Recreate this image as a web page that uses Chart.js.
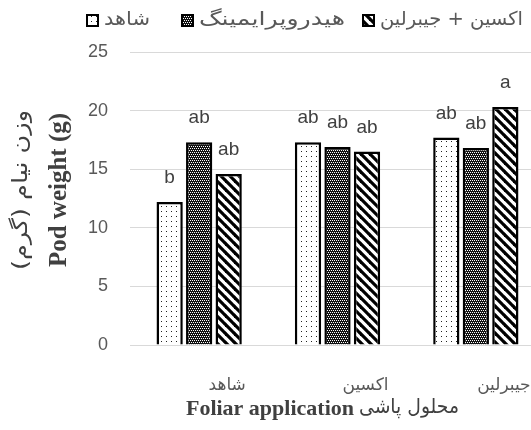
<!DOCTYPE html>
<html>
<head>
<meta charset="utf-8">
<script src="https://cdn.jsdelivr.net/npm/chart.js@4.4.1/dist/chart.umd.min.js"></script>
<style>
  body { margin: 0; overflow: hidden; background: #fff; }
  #wrap { width: 546px; height: 430px; }
</style>
</head>
<body>
<div id="wrap"><canvas id="myChart"></canvas></div>
<script>
'use strict';

let categories = ['شاهد', 'اکسین', 'جیبرلین'];
let seriesNames = ['شاهد', 'هیدروپرایمینگ', 'اکسین + جیبرلین'];

let controlValues = [12.2, 17.3, 17.7];
let hydroValues = [17.3, 16.9, 16.8];
let auxinGaValues = [14.6, 16.5, 20.3];

let controlLetters = ['b', 'ab', 'ab'];
let hydroLetters = ['ab', 'ab', 'ab'];
let auxinGaLetters = ['ab', 'ab', 'a'];

let yTicks = [0, 5, 10, 15, 20, 25];

let yTitleFa = 'وزن نیام (گرم)';
let yTitleEn = 'Pod weight (g)';
let xTitleFa = 'محلول پاشی';
let xTitleEn = 'Foliar application';

function makePattern(kind) {
    let c = document.createElement('canvas');
    let g = c.getContext('2d');
    if (kind === 'dots') {
        c.width = 5; c.height = 5;
        g.fillStyle = '#fff';
        g.fillRect(0, 0, 5, 5);
        g.fillStyle = '#222';
        g.fillRect(1, 1, 1, 1);
    } else if (kind === 'cross') {
        c.width = 4; c.height = 4;
        g.fillStyle = '#111';
        g.fillRect(0, 0, 4, 4);
        g.fillStyle = '#fff';
        g.fillRect(0, 0, 1, 1);
        g.fillRect(2, 0, 1, 1);
        g.fillRect(1, 2, 1, 1);
        g.fillRect(3, 2, 1, 1);
    } else {
        c.width = 9; c.height = 9;
        g.fillStyle = '#fff';
        g.fillRect(0, 0, 9, 9);
        g.strokeStyle = '#000';
        g.lineWidth = 3.2;
        for (let k = -1; k <= 1; k++) {
            g.beginPath();
            g.moveTo(k * 9 - 1, -1);
            g.lineTo(k * 9 + 10, 10);
            g.stroke();
        }
    }
    return g.createPattern(c, 'repeat');
}

let patterns = [makePattern('dots'), makePattern('cross'), makePattern('stripes')];
let letters = [controlLetters, hydroLetters, auxinGaLetters];

// persian font here is narrower than the original one, so stretch it to a width
// (textAlign must be 'left', x is the left edge)
function faText(ctx, text, x, y, width) {
    ctx.save();
    ctx.direction = 'rtl';
    let w = ctx.measureText(text).width;
    ctx.translate(x, y);
    ctx.scale(width / w, 1);
    ctx.fillText(text, 0, 0);
    ctx.restore();
}

let extrasPlugin = {
    id: 'extras',
    afterDatasetsDraw(chart) {
        let ctx = chart.ctx;
        ctx.save();
        ctx.fillStyle = '#404040';
        ctx.font = '19px "Liberation Sans", Arial, sans-serif';
        ctx.textAlign = 'center';
        ctx.textBaseline = 'middle';
        chart.data.datasets.forEach(function (ds, i) {
            let meta = chart.getDatasetMeta(i);
            meta.data.forEach(function (bar, j) {
                ctx.fillText(letters[i][j], bar.x, bar.y - 24);
            });
        });
        ctx.restore();
    },
    afterDraw(chart) {
        let ctx = chart.ctx;
        let boxX = [86, 181, 362];
        let textW = [46, 146, 143];
        ctx.save();
        chart.data.datasets.forEach(function (ds, i) {
            ctx.fillStyle = patterns[i];
            ctx.fillRect(boxX[i], 14, 13, 13);
            ctx.strokeStyle = '#000';
            ctx.lineWidth = 2;
            ctx.strokeRect(boxX[i] + 1, 15, 11, 11);
            ctx.fillStyle = '#595959';
            ctx.font = '19px "DejaVu Sans", sans-serif';
            ctx.textAlign = 'left';
            ctx.textBaseline = 'middle';
            faText(ctx, ds.label, boxX[i] + 18, 20, textW[i]);
        });

        // y title, two lines rotated
        ctx.save();
        ctx.translate(22, 190);
        ctx.rotate(-Math.PI / 2);
        ctx.textBaseline = 'middle';
        ctx.fillStyle = '#404040';
        ctx.font = '21px "DejaVu Sans", sans-serif';
        ctx.textAlign = 'left';
        faText(ctx, yTitleFa, -80, 0, 160);
        ctx.textAlign = 'center';
        ctx.font = 'bold 25px "Liberation Serif", serif';
        ctx.fillText(yTitleEn, 0, 38);
        ctx.restore();

        // x title
        ctx.textBaseline = 'middle';
        ctx.fillStyle = '#404040';
        ctx.font = 'bold 22px "Liberation Serif", serif';
        ctx.textAlign = 'right';
        ctx.fillText(xTitleEn, 354, 409);
        ctx.font = '20px "DejaVu Sans", sans-serif';
        ctx.textAlign = 'left';
        faText(ctx, xTitleFa, 359, 408, 100);
        ctx.restore();
    }
};

let ctx = document.getElementById('myChart').getContext('2d');
let myChart = new Chart(ctx, {
    type: 'bar',
    data: {
        labels: categories,
        datasets: [
            { label: seriesNames[0], data: controlValues, backgroundColor: patterns[0] },
            { label: seriesNames[1], data: hydroValues, backgroundColor: patterns[1] },
            { label: seriesNames[2], data: auxinGaValues, backgroundColor: patterns[2] }
        ]
    },
    options: {
        responsive: true,
        maintainAspectRatio: false,
        animation: false,
        layout: { padding: { top: 52, right: 1, bottom: 0, left: 0 } },
        datasets: {
            bar: {
                borderColor: '#000',
                borderWidth: 2.5,
                categoryPercentage: 0.64,
                barPercentage: 0.89
            }
        },
        plugins: {
            legend: { display: false },
            tooltip: { enabled: false }
        },
        scales: {
            x: {
                grid: { display: false },
                border: { display: false },
                ticks: {
                    padding: 22,
                    labelOffset: 28,
                    color: '#595959',
                    font: { family: '"DejaVu Sans", sans-serif', size: 17 }
                },
                afterFit(scale) { scale.height = 85; }
            },
            y: {
                min: 0,
                max: 25,
                afterBuildTicks(scale) {
                    scale.ticks = yTicks.map(function (v) { return { value: v }; });
                },
                grid: { color: '#d9d9d9', lineWidth: 1, drawTicks: false },
                border: { display: false },
                ticks: {
                    padding: 22,
                    color: '#595959',
                    font: { family: '"Liberation Sans", Arial, sans-serif', size: 18 }
                },
                afterFit(scale) { scale.width = 130; }
            }
        }
    },
    plugins: [extrasPlugin]
});
</script>
</body>
</html>
